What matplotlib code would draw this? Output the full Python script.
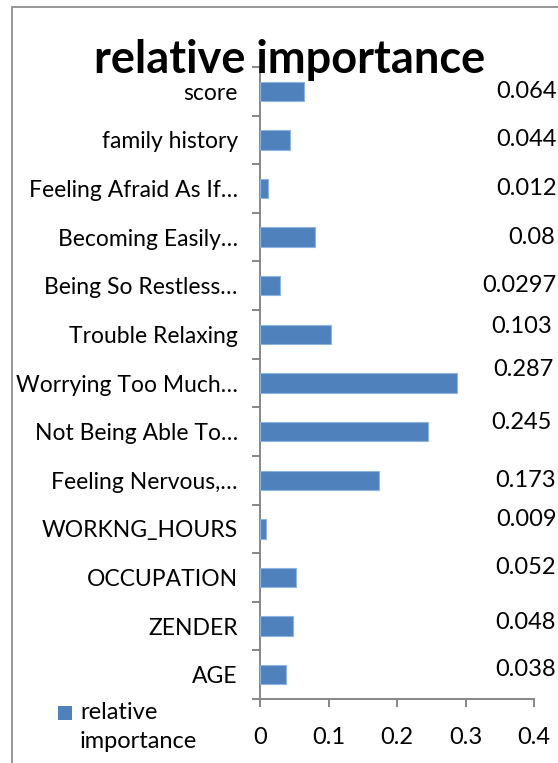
import matplotlib
matplotlib.use("Agg")
import matplotlib.pyplot as plt
from matplotlib.patches import Rectangle
import numpy as np

FONT = "Lato"
BAR_CLR = "#4f81bd"
EDGE_CLR = "#8eb4e3"
AXIS_CLR = "#868686"

categories = [
    "score", "family history", "Feeling Afraid As If…", "Becoming Easily…",
    "Being So Restless…", "Trouble Relaxing", "Worrying Too Much…",
    "Not Being Able To…", "Feeling Nervous,…", "WORKNG_HOURS",
    "OCCUPATION", "ZENDER", "AGE",
]
values = [0.064, 0.044, 0.012, 0.08, 0.0297, 0.103, 0.287,
          0.245, 0.173, 0.009, 0.052, 0.048, 0.038]
value_labels = ["0.064", "0.044", "0.012", "0.08", "0.0297", "0.103", "0.287",
                "0.245", "0.173", "0.009", "0.052", "0.048", "0.038"]
x_ticks = [0, 0.1, 0.2, 0.3, 0.4]
x_ticklabels = ["0", "0.1", "0.2", "0.3", "0.4"]
series_name = "relative\nimportance"

# label nudges (pixels) -- the data labels sit loosely in a column on the right
label_dy = [0, 0, 0, 0, 0, 8, 13, 9, 0, 9, 10, 4, 5]
label_dx = [0, 0, 0, -2, -1, -5, -4, -5, -1, 0, -1, -1, -1]

W, H = 558, 763
fig = plt.figure(figsize=(W / 100, H / 100), dpi=100, facecolor="white")
ax = fig.add_axes([260 / W, 1 - 699 / H, (534 - 260) / W, (699 - 67) / H])

y = np.arange(len(categories))
ax.barh(y, values, height=0.4, color=BAR_CLR, edgecolor=EDGE_CLR,
        linewidth=0.8, zorder=3)
ax.set_xlim(0, 0.4)
ax.set_ylim(len(categories) - 0.5, -0.5)

for s in ("top", "right"):
    ax.spines[s].set_visible(False)
for s in ("left", "bottom"):
    ax.spines[s].set_color(AXIS_CLR)
    ax.spines[s].set_linewidth(1.4)

ax.set_yticks(y)
ax.set_yticklabels(categories, fontsize=16.5, family=FONT)
ax.set_yticks(np.arange(len(categories) + 1) - 0.5, minor=True)
ax.tick_params(axis="y", which="major", length=0, pad=16)
ax.tick_params(axis="y", which="minor", length=6, width=1.4, color=AXIS_CLR)
ax.set_xticks(x_ticks)
ax.set_xticklabels(x_ticklabels, fontsize=17, family=FONT)
ax.tick_params(axis="x", length=6, width=1.4, color=AXIS_CLR, pad=14)

for yi, lbl, dy, dx in zip(y, value_labels, label_dy, label_dx):
    ax.annotate(lbl, xy=(557 / W, yi), xycoords=("figure fraction", "data"),
                xytext=(dx * 0.72, dy * 0.72), textcoords="offset points",
                ha="right", va="center", fontsize=17, family=FONT,
                annotation_clip=False)

fig.text(290 / W, 1 - 60 / H, "relative importance", ha="center", va="center",
         fontsize=32.5, fontweight="bold", family=FONT)

# legend: square key beside a two-line series name
fig.add_artist(Rectangle((58 / W, 1 - 720 / H), 14 / W, 14 / H,
                         transform=fig.transFigure, facecolor=BAR_CLR,
                         edgecolor="none"))
fig.text(80 / W, 1 - 702 / H, series_name, ha="left", va="top",
         fontsize=17, family=FONT, linespacing=1.45)

fig.add_artist(Rectangle((12 / W, -0.1), 2, 1 - 7 / H + 0.1,
                         transform=fig.transFigure, fill=False,
                         edgecolor=AXIS_CLR, linewidth=1.2))

fig.savefig("out.png", dpi=100, facecolor="white")
